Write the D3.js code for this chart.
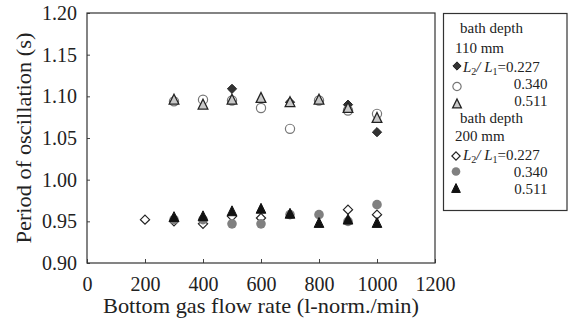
<!DOCTYPE html>
<html><head><meta charset="utf-8">
<script src="https://cdn.jsdelivr.net/npm/d3@7"></script>
<style>
html,body{margin:0;padding:0;background:#fff;}
svg{display:block;font-family:"Liberation Serif","DejaVu Serif",serif;}
</style></head>
<body><svg id="c" width="568" height="329"></svg>
<script>
// ---- data ----
const flow110 = [300, 400, 500, 600, 700, 800, 900, 1000];
const d110_227 = [null, null, 1.109, null, 1.093, null, 1.090, 1.057];
const d110_340 = [1.094, 1.096, 1.095, 1.086, 1.061, 1.095, 1.083, 1.079];
const d110_511 = [1.096, 1.090, 1.096, 1.098, 1.093, 1.096, 1.086, 1.074];
const flow200 = [200, 300, 400, 500, 600, 700, 800, 900, 1000];
const d200_227 = [0.952, 0.950, 0.947, 0.956, 0.954, null, null, 0.964, 0.958];
const d200_340 = [null, 0.952, 0.952, 0.947, 0.947, 0.958, 0.958, 0.950, 0.970];
const d200_511 = [null, 0.955, 0.956, 0.962, 0.965, 0.959, 0.948, 0.952, 0.948];
const xTicks = [0, 200, 400, 600, 800, 1000, 1200];
const yTicks = [0.90, 0.95, 1.00, 1.05, 1.10, 1.15, 1.20];
const xTitle = "Bottom gas flow rate (l-norm./min)";
const yTitle = "Period of oscillation (s)";

const svg = d3.select("#c");
const L = 87, R = 435, T = 13, B = 263;
const x = d3.scaleLinear().domain([0, 1200]).range([L, R]);
const y = d3.scaleLinear().domain([0.90, 1.20]).range([B, T]);

// axes
const gy = svg.append("g").attr("transform", `translate(${L},0)`)
  .call(d3.axisLeft(y).tickValues(yTicks).tickFormat(d3.format(".2f"))
    .tickSizeInner(-3).tickSizeOuter(0).tickPadding(10));
gy.select(".domain").remove();
gy.selectAll("line").attr("stroke", "#444");
gy.selectAll("text").attr("font-size", 20).attr("fill", "#222")
  .attr("font-family", "Liberation Serif");

const gx = svg.append("g").attr("transform", `translate(0,${B})`)
  .call(d3.axisBottom(x).tickValues(xTicks).tickFormat(d3.format("d"))
    .tickSizeInner(-4).tickSizeOuter(0).tickPadding(14));
gx.select(".domain").remove();
gx.selectAll("line").attr("stroke", "#444");
gx.selectAll("text").attr("font-size", 20).attr("fill", "#222")
  .attr("font-family", "Liberation Serif");

// frame
svg.append("rect").attr("x", L).attr("y", T).attr("width", R - L).attr("height", B - T)
  .attr("fill", "none").attr("stroke", "#333").attr("stroke-width", 1.2);

// titles
svg.append("text").attr("x", (L + R) / 2).attr("y", 312.5).attr("text-anchor", "middle")
  .attr("font-size", 21).attr("fill", "#222")
  .attr("textLength", 316).attr("lengthAdjust", "spacingAndGlyphs").text(xTitle);
svg.append("text").attr("transform", `translate(31,${(T + B) / 2}) rotate(-90)`)
  .attr("text-anchor", "middle").attr("font-size", 22).attr("fill", "#222")
  .attr("textLength", 211).attr("lengthAdjust", "spacingAndGlyphs").text(yTitle);

// marker shapes
const shapes = {
  diamond: r => `M0,${-r}L${r},0L0,${r}L${-r},0Z`,
  circle: r => d3.arc()({innerRadius: 0, outerRadius: r, startAngle: 0, endAngle: 2 * Math.PI}),
  triangle: r => `M0,${-r * 1.25}L${r * 1.1},${r}L${-r * 1.1},${r}Z`
};
const styles = {
  d110_227: {shape: "diamond", fill: "#333", stroke: "#222", sw: 1, r: 4.6},
  d110_340: {shape: "circle", fill: "none", stroke: "#777", sw: 1.2, r: 4.6},
  d110_511: {shape: "triangle", fill: "#c8c8c8", stroke: "#222", sw: 1.3, r: 4.4},
  d200_227: {shape: "diamond", fill: "#fff", stroke: "#222", sw: 1.2, r: 4.6},
  d200_340: {shape: "circle", fill: "#808080", stroke: "none", sw: 0, r: 4.8},
  d200_511: {shape: "triangle", fill: "#111", stroke: "#111", sw: 1, r: 4.4}
};
const series = [
  {key: "d110_227", xs: flow110, ys: d110_227},
  {key: "d110_340", xs: flow110, ys: d110_340},
  {key: "d110_511", xs: flow110, ys: d110_511},
  {key: "d200_227", xs: flow200, ys: d200_227},
  {key: "d200_340", xs: flow200, ys: d200_340},
  {key: "d200_511", xs: flow200, ys: d200_511}
];
const plot = svg.append("g");
series.forEach(s => {
  const st = styles[s.key];
  const pts = s.xs.map((v, i) => ({x: v, y: s.ys[i]})).filter(p => p.y != null);
  plot.append("g").selectAll("path").data(pts).join("path")
    .attr("transform", d => `translate(${x(d.x)},${y(d.y)})`)
    .attr("d", shapes[st.shape](st.r))
    .attr("fill", st.fill).attr("stroke", st.stroke).attr("stroke-width", st.sw);
});

// legend
const lg = svg.append("g");
lg.append("rect").attr("x", 443.5).attr("y", 13.5).attr("width", 123.5).attr("height", 197)
  .attr("fill", "#fff").attr("stroke", "#333").attr("stroke-width", 1.2);
const fs = 15;
function txt(xp, yp, s, anchor) {
  return lg.append("text").attr("x", xp).attr("y", yp).attr("font-size", fs)
    .attr("fill", "#222").attr("text-anchor", anchor || "start").text(s);
}
function ratio(yp) {
  const t = lg.append("text").attr("x", 463).attr("y", yp).attr("font-size", fs).attr("fill", "#222");
  t.append("tspan").attr("font-style", "italic").text("L");
  t.append("tspan").attr("font-size", 10).attr("dy", 3).text("2");
  t.append("tspan").attr("font-style", "italic").attr("dy", -3).text("/ L");
  t.append("tspan").attr("font-size", 10).attr("dy", 3).text("1");
  t.append("tspan").attr("dy", -3).text("=0.227");
}
function mark(key, xp, yp) {
  const st = styles[key];
  lg.append("path").attr("transform", `translate(${xp},${yp})`)
    .attr("d", shapes[st.shape](st.r * 0.9))
    .attr("fill", st.fill).attr("stroke", st.stroke).attr("stroke-width", st.sw);
}
txt(460, 33, "bath depth");
txt(455, 52.5, "110 mm");
mark("d110_227", 457, 66); ratio(71.5);
mark("d110_340", 457, 86.5); txt(547.5, 88.5, "0.340", "end");
mark("d110_511", 457, 104); txt(547.5, 106, "0.511", "end");
txt(460, 122.7, "bath depth");
txt(455, 140.5, "200 mm");
mark("d200_227", 456, 156); ratio(159.5);
mark("d200_340", 456, 171.5); txt(547.5, 176.7, "0.340", "end");
mark("d200_511", 456, 188.5); txt(547.5, 194.3, "0.511", "end");
</script></body></html>
